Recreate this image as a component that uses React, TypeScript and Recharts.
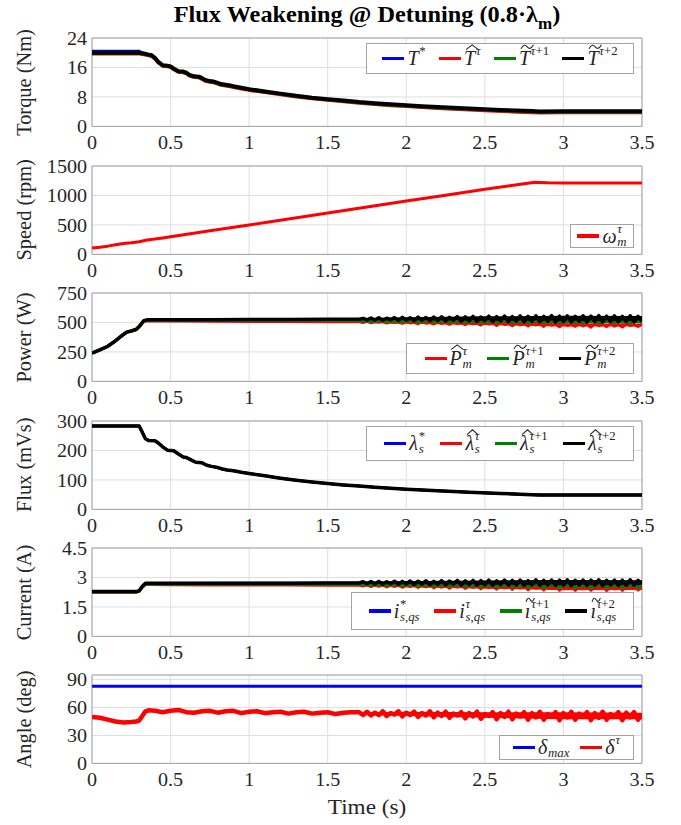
import React from 'react';
import { ComposedChart, Line, Area, XAxis, YAxis, CartesianGrid, ReferenceArea, Legend } from 'recharts';

const FONT = '"Liberation Serif", "Times New Roman", Times, serif';
const INK = '#262626';
const GRID = '#dedede';
const BOX = '#a3a3a3';
const STRETCH = 1.08;

const BLUE = '#0000ff';
const RED = '#ff0000';
const GREEN = '#008000';
const BLACK = '#000000';

// ---------- time axis ----------
const TIME_TICKS = [0, 0.5, 1, 1.5, 2, 2.5, 3, 3.5];
// 25 ms sampling instants for the ripple section 1.7 … 3.5 s
const DENSE_T = Array.from({ length: 73 }, (_, i) => Math.round((1.7 + i * 0.025) * 1000) / 1000);
// instants at which the ripple envelopes are read
const ENV_T = [1.7, 2.0, 2.5, 3.0, 3.5];

// ---------- torque (Nm) ----------
const TQ_T = [0, 0.3, 0.33, 0.36, 0.38, 0.4, 0.42, 0.45, 0.48, 0.5, 0.52, 0.55, 0.58, 0.6, 0.62, 0.65, 0.68, 0.7, 0.72, 0.75, 0.78, 0.8, 0.82, 0.85, 0.88, 0.9, 0.95, 1.0, 1.1, 1.2, 1.3, 1.4, 1.5, 1.6, 1.7, 1.8, 1.9, 2.0, 2.1, 2.2, 2.3, 2.4, 2.5, 2.6, 2.7, 2.8, 2.85, 3.0, 3.25, 3.5];
const TQ_PRED2 = [20.0, 20.0, 19.8, 19.5, 19.3, 18.6, 17.6, 16.6, 16.5, 16.3, 15.7, 15.0, 14.9, 14.6, 14.0, 13.6, 13.5, 13.1, 12.6, 12.3, 12.1, 11.8, 11.5, 11.3, 11.1, 10.9, 10.5, 10.1, 9.5, 8.9, 8.3, 7.8, 7.4, 7.0, 6.6, 6.3, 6.0, 5.75, 5.5, 5.25, 5.05, 4.85, 4.65, 4.45, 4.3, 4.15, 4.05, 4.1, 4.1, 4.1];
const TQ_PRED1 = [19.85, 19.85, 19.65, 19.35, 19.15, 18.45, 17.45, 16.45, 16.35, 16.15, 15.55, 14.85, 14.75, 14.45, 13.85, 13.45, 13.35, 12.95, 12.45, 12.15, 11.95, 11.65, 11.35, 11.15, 10.95, 10.75, 10.35, 9.95, 9.35, 8.75, 8.15, 7.65, 7.25, 6.85, 6.45, 6.1, 5.8, 5.55, 5.3, 5.05, 4.85, 4.65, 4.45, 4.25, 4.1, 3.95, 3.85, 3.9, 3.9, 3.9];
const TQ_EST = [19.7, 19.7, 19.5, 19.2, 19.0, 18.3, 17.3, 16.3, 16.2, 16.0, 15.4, 14.7, 14.6, 14.3, 13.7, 13.3, 13.2, 12.8, 12.3, 12.0, 11.8, 11.5, 11.2, 11.0, 10.8, 10.6, 10.2, 9.8, 9.2, 8.6, 8.0, 7.5, 7.1, 6.7, 6.3, 5.95, 5.65, 5.4, 5.15, 4.9, 4.7, 4.5, 4.3, 4.1, 3.9, 3.75, 3.65, 3.7, 3.7, 3.7];
const TQ_REF = [20.55, 20.55, 19.8, 19.5, 19.3, 18.6, 17.6, 16.6, 16.5, 16.3, 15.7, 15.0, 14.9, 14.6, 14.0, 13.6, 13.5, 13.1, 12.6, 12.3, 12.1, 11.8, 11.5, 11.3, 11.1, 10.9, 10.5, 10.1, 9.5, 8.9, 8.3, 7.8, 7.4, 7.0, 6.6, 6.3, 6.0, 5.75, 5.5, 5.25, 5.05, 4.85, 4.65, 4.45, 4.3, 4.15, 4.05, 4.1, 4.1, 4.1];

// ---------- speed (rpm) ----------
const SP_T = [0, 0.05, 0.1, 0.15, 0.2, 0.25, 0.3, 0.35, 0.4, 0.45, 0.5, 0.75, 1.0, 1.25, 1.5, 1.75, 2.0, 2.25, 2.5, 2.75, 2.82, 2.85, 2.9, 3.0, 3.25, 3.5];
const SP_V = [110, 122, 140, 162, 185, 198, 215, 245, 260, 280, 300, 400, 500, 600, 702, 803, 905, 1005, 1105, 1200, 1226, 1222, 1214, 1212, 1211, 1210];

// ---------- power (W) ----------
const PW_T0 = [0, 0.05, 0.1, 0.15, 0.2, 0.22, 0.25, 0.28, 0.3, 0.33, 0.35, 0.5, 0.75, 1.0, 1.25, 1.5, 1.675];
const PW_PRED2_0 = [240, 268, 298, 345, 398, 418, 428, 440, 465, 515, 522, 523, 524, 525, 526, 527, 527];
const PW_PRED1_0 = [240, 268, 298, 345, 398, 418, 428, 440, 465, 512, 518, 518, 517, 517, 516, 516, 515];
const PW_EST_0 = [240, 268, 298, 345, 398, 418, 428, 440, 465, 510, 513, 512, 510, 509, 508, 507, 506];
const PW_PRED2_D = [
  527, 535, 522, 538, 520, 540, 519, 536, 523, 541,
  518, 543, 521, 539, 516, 545, 520, 542, 515, 546,
  517, 548, 512, 544, 519, 550, 510, 547, 514, 551,
  509, 546, 516, 553, 508, 549, 513, 555, 507, 550,
  512, 556, 505, 552, 510, 557, 506, 551, 511, 558,
  504, 553, 509, 556, 505, 552, 510, 557, 503, 554,
  508, 558, 504, 553, 509, 556, 506, 551, 510, 557,
  505, 552, 512,
];
const PW_PRED1_D = [
  514, 508, 517, 506, 515, 509, 518, 505, 513, 510,
  512, 503, 516, 507, 518, 502, 514, 508, 517, 501,
  513, 505, 518, 500, 515, 507, 519, 499, 512, 506,
  517, 498, 514, 504, 520, 497, 511, 506, 518, 496,
  513, 503, 519, 495, 510, 505, 517, 494, 514, 502,
  518, 493, 511, 504, 516, 495, 519, 492, 512, 503,
  517, 494, 510, 505, 518, 493, 513, 500, 516, 495,
  511, 504, 508,
];
const PW_EST_D = [
  506, 500, 509, 497, 505, 501, 508, 495, 503, 499,
  504, 492, 507, 496, 502, 489, 506, 494, 500, 487,
  505, 491, 499, 484, 503, 490, 497, 481, 502, 488,
  495, 478, 500, 486, 493, 475, 499, 483, 491, 472,
  497, 480, 489, 470, 496, 478, 488, 466, 494, 476,
  486, 463, 493, 474, 485, 467, 492, 471, 484, 460,
  491, 472, 483, 465, 490, 469, 482, 461, 489, 473,
  481, 466, 487,
];
const PW_PRED2_LO = [520, 514, 508, 505, 505];
const PW_PRED2_HI = [536, 545, 552, 556, 555];
const PW_PRED1_LO = [506, 502, 497, 494, 495];
const PW_PRED1_HI = [516, 517, 518, 518, 516];
const PW_EST_LO = [498, 490, 478, 466, 467];
const PW_EST_HI = [507, 505, 502, 492, 489];

// ---------- flux (mVs) — reference, estimate and predictions coincide ----------
const FX_T = [0, 0.3, 0.32, 0.34, 0.36, 0.4, 0.42, 0.45, 0.48, 0.52, 0.55, 0.58, 0.6, 0.63, 0.66, 0.7, 0.73, 0.76, 0.8, 0.83, 0.86, 0.9, 0.95, 1.0, 1.1, 1.2, 1.3, 1.4, 1.5, 1.6, 1.7, 1.8, 1.9, 2.0, 2.2, 2.4, 2.6, 2.8, 2.85, 3.0, 3.5];
const FX_V = [283, 283, 262, 240, 234, 233, 226, 212, 201, 199, 188, 178, 176, 168, 160, 158, 150, 146, 142, 137, 134, 131, 126, 122, 114, 106, 99, 93, 88, 83, 79, 75, 72, 68.5, 63, 58, 54, 50, 49, 49, 49];

// ---------- q-axis current (A) ----------
const CU_T0 = [0, 0.28, 0.3, 0.32, 0.34, 0.36, 0.5, 0.75, 1.0, 1.25, 1.5, 1.675];
const CU_PRED2_0 = [2.28, 2.28, 2.32, 2.55, 2.70, 2.71, 2.71, 2.71, 2.71, 2.71, 2.72, 2.72];
const CU_PRED1_0 = [2.26, 2.26, 2.30, 2.52, 2.66, 2.66, 2.66, 2.66, 2.66, 2.65, 2.65, 2.65];
const CU_EST_0 = [2.25, 2.25, 2.29, 2.50, 2.64, 2.64, 2.63, 2.62, 2.62, 2.61, 2.60, 2.60];
const CU_REF_T = [0, 0.28, 0.3, 0.32, 0.34, 0.36, 3.5];
const CU_REF_V = [2.28, 2.28, 2.32, 2.55, 2.70, 2.71, 2.72];
const CU_PRED2_D = [
  2.72, 2.78, 2.68, 2.79, 2.67, 2.80, 2.66, 2.78, 2.68, 2.81,
  2.65, 2.80, 2.67, 2.82, 2.64, 2.81, 2.66, 2.83, 2.63, 2.80,
  2.65, 2.84, 2.62, 2.82, 2.66, 2.85, 2.61, 2.83, 2.64, 2.85,
  2.60, 2.84, 2.63, 2.86, 2.61, 2.83, 2.64, 2.87, 2.60, 2.85,
  2.62, 2.87, 2.59, 2.84, 2.63, 2.88, 2.60, 2.85, 2.62, 2.87,
  2.59, 2.86, 2.61, 2.88, 2.58, 2.85, 2.62, 2.87, 2.59, 2.86,
  2.61, 2.88, 2.58, 2.85, 2.62, 2.87, 2.59, 2.86, 2.60, 2.88,
  2.61, 2.85, 2.70,
];
const CU_PRED1_D = [
  2.65, 2.61, 2.67, 2.59, 2.66, 2.60, 2.68, 2.57, 2.65, 2.60,
  2.67, 2.56, 2.66, 2.58, 2.68, 2.55, 2.65, 2.59, 2.67, 2.54,
  2.66, 2.57, 2.69, 2.53, 2.65, 2.58, 2.68, 2.52, 2.66, 2.56,
  2.69, 2.51, 2.64, 2.57, 2.68, 2.50, 2.66, 2.55, 2.69, 2.49,
  2.65, 2.56, 2.68, 2.48, 2.64, 2.55, 2.69, 2.47, 2.66, 2.54,
  2.68, 2.47, 2.65, 2.55, 2.69, 2.46, 2.64, 2.53, 2.68, 2.47,
  2.66, 2.54, 2.69, 2.46, 2.65, 2.53, 2.68, 2.47, 2.64, 2.55,
  2.67, 2.48, 2.60,
];
const CU_EST_D = [
  2.60, 2.56, 2.62, 2.54, 2.61, 2.55, 2.62, 2.52, 2.60, 2.54,
  2.61, 2.50, 2.60, 2.53, 2.62, 2.49, 2.59, 2.52, 2.61, 2.47,
  2.60, 2.50, 2.62, 2.45, 2.59, 2.51, 2.61, 2.44, 2.58, 2.49,
  2.61, 2.42, 2.57, 2.48, 2.60, 2.40, 2.58, 2.47, 2.61, 2.39,
  2.57, 2.46, 2.60, 2.37, 2.56, 2.45, 2.59, 2.36, 2.57, 2.44,
  2.60, 2.35, 2.56, 2.45, 2.59, 2.34, 2.57, 2.43, 2.60, 2.35,
  2.56, 2.44, 2.59, 2.33, 2.57, 2.42, 2.60, 2.34, 2.56, 2.44,
  2.58, 2.36, 2.50,
];
const CU_PRED2_LO = [2.67, 2.64, 2.61, 2.59, 2.6];
const CU_PRED2_HI = [2.78, 2.82, 2.85, 2.87, 2.86];
const CU_PRED1_LO = [2.6, 2.56, 2.51, 2.47, 2.48];
const CU_PRED1_HI = [2.66, 2.67, 2.68, 2.68, 2.67];
const CU_EST_LO = [2.55, 2.5, 2.43, 2.35, 2.36];
const CU_EST_HI = [2.6, 2.61, 2.61, 2.59, 2.58];

// ---------- load angle (deg) ----------
const DELTA_MAX_T = [0, 3.5];
const DELTA_MAX_V = [82.8, 82.8];
const AN_T0 = [0, 0.05, 0.1, 0.15, 0.2, 0.25, 0.28, 0.3, 0.32, 0.34, 0.36, 0.4, 0.45, 0.5, 0.55, 0.6, 0.65, 0.7, 0.75, 0.8, 0.85, 0.9, 0.95, 1.0, 1.05, 1.1, 1.15, 1.2, 1.25, 1.3, 1.35, 1.4, 1.45, 1.5, 1.55, 1.6, 1.65];
const AN_V0 = [50, 49, 47, 45, 44, 44.5, 45, 46, 51, 56, 57, 56.5, 55, 56.5, 57.5, 55, 54.5, 56, 56.5, 54.5, 56, 56.5, 54, 55.5, 56, 54, 55, 55.5, 53.5, 55, 55.5, 53.5, 54.5, 55, 53, 54.5, 55];
const AN_D = [
  55, 52, 55.5, 51.5, 54.5, 52, 56, 51, 54, 52.5,
  56, 50.5, 54.5, 52, 55.5, 50, 54, 51.5, 56, 49.5,
  54.5, 51, 55.5, 49, 53.5, 51.5, 55, 48.5, 54, 50.5,
  55.5, 48, 53, 51, 55, 47.5, 54, 50, 55.5, 47.5,
  53.5, 50.5, 55, 47, 54, 49.5, 55.5, 47, 53, 50,
  55, 46.5, 54, 49.5, 55.5, 47, 53.5, 50, 55, 46.5,
  54, 49, 55.5, 47, 53, 50, 55, 46.5, 54.5, 49.5,
  55, 47, 52,
];
const AN_LO = [52, 51, 49, 47.5, 47.5];
const AN_HI = [55, 55.5, 55, 55, 54.5];

type Pt = { t: number; v: number };
type BandPt = { t: number; r: [number, number] };
const pts = (ts: number[], vs: number[]): Pt[] => ts.map((t, i) => ({ t, v: vs[i] }));
const band = (ts: number[], lo: number[], hi: number[]): BandPt[] => ts.map((t, i) => ({ t, r: [lo[i], hi[i]] }));

// ---------- layout ----------
const PANEL_TOPS = [38.3, 165.6, 293.3, 420.6, 548.3, 675.2];
const PANEL_H = 88.4;
const PAD_TOP = 14;
const XAXIS_H = 40;
const CHART_H = PAD_TOP + PANEL_H + XAXIS_H;
const PLOT_LEFT = 92;
const PLOT_RIGHT = 642;

// ---------- math-style legend labels ----------
function Accent({ kind, w }: { kind: 'hat' | 'tilde'; w: number }) {
  const d = kind === 'hat' ? 'M0 4 L5 0.6 L10 4' : 'M0 3.4 C1.8 0.2 3.6 0.4 5 2 C6.4 3.6 8.2 3.8 10 0.6';
  return (
    <svg
      width={`${w}em`}
      height="0.28em"
      viewBox="0 0 10 4"
      preserveAspectRatio="none"
      style={{ position: 'absolute', left: '0.08em', top: '-0.2em', overflow: 'visible' }}
    >
      <path d={d} fill="none" stroke={INK} strokeWidth={1.1} vectorEffect="non-scaling-stroke" />
    </svg>
  );
}

function M({ b, acc, accW = 0.62, sup, sub }: { b: string; acc?: 'hat' | 'tilde'; accW?: number; sup?: React.ReactNode; sub?: React.ReactNode }) {
  return (
    <span style={{ display: 'inline-flex', alignItems: 'center', whiteSpace: 'nowrap' }}>
      <span style={{ position: 'relative', display: 'inline-block', fontStyle: 'italic', lineHeight: 1 }}>
        {acc && <Accent kind={acc} w={accW} />}
        {b}
      </span>
      <span style={{ display: 'inline-flex', flexDirection: 'column', fontSize: '0.64em', lineHeight: 1.05, marginLeft: '0.06em' }}>
        <span style={{ visibility: sup ? 'visible' : 'hidden' }}>{sup ?? '\u00a0'}</span>
        <span style={{ visibility: sub ? 'visible' : 'hidden' }}>{sub ?? '\u00a0'}</span>
      </span>
    </span>
  );
}

const tau = <i>τ</i>;
const tau1 = (
  <>
    <i>τ</i>+1
  </>
);
const tau2 = (
  <>
    <i>τ</i>+2
  </>
);
const sqs = (
  <>
    <i>s</i>,<i>qs</i>
  </>
);

type LegendItem = { color: string; label: React.ReactNode };
type LegendDef = { x: number; y: number; w: number; h: number; items: LegendItem[] };

function LegendBox({ items }: { items: LegendItem[] }) {
  return (
    <div
      style={{
        boxSizing: 'border-box',
        width: '100%',
        height: '100%',
        background: '#ffffff',
        border: `1px solid ${BOX}`,
        display: 'flex',
        alignItems: 'center',
        justifyContent: 'space-evenly',
        fontFamily: FONT,
        fontSize: 20,
        color: INK,
        padding: '0 2px',
      }}
    >
      {items.map((it, i) => (
        <span key={i} style={{ display: 'inline-flex', alignItems: 'center' }}>
          <span style={{ display: 'inline-block', width: 22, height: 3.5, background: it.color, marginRight: 3 }} />
          {it.label}
        </span>
      ))}
    </div>
  );
}

// ---------- axis ticks ----------
function XTick(props: any) {
  const { x, y, payload } = props;
  return (
    <g transform={`translate(${x},${y}) scale(${STRETCH},1)`}>
      <text textAnchor="middle" dy="0.71em" fontFamily={FONT} fontSize={18.6} fill={INK}>
        {String(payload.value)}
      </text>
    </g>
  );
}

function YTick(props: any) {
  const { x, y, payload } = props;
  return (
    <g transform={`translate(${x},${y}) scale(${STRETCH},1)`}>
      <text textAnchor="end" dy="0.355em" fontFamily={FONT} fontSize={18.6} fill={INK}>
        {String(payload.value)}
      </text>
    </g>
  );
}

// ---------- panels ----------
type SeriesDef = { data: Pt[]; color: string; width: number; env?: BandPt[] };
type PanelDef = { label: string; yMax: number; yTicks: number[]; series: SeriesDef[]; legend: LegendDef };

const PANELS: PanelDef[] = [
  {
    label: 'Torque (Nm)',
    yMax: 24,
    yTicks: [0, 8, 16, 24],
    series: [
      { data: pts(TQ_T, TQ_REF), color: BLUE, width: 2 },
      { data: pts(TQ_T, TQ_EST), color: RED, width: 3.2 },
      { data: pts(TQ_T, TQ_PRED1), color: GREEN, width: 3.2 },
      { data: pts(TQ_T, TQ_PRED2), color: BLACK, width: 4 },
    ],
    legend: {
      x: 366, y: 43, w: 268, h: 31,
      items: [
        { color: BLUE, label: <M b="T" sup="*" /> },
        { color: RED, label: <M b="T" acc="hat" sup={tau} /> },
        { color: GREEN, label: <M b="T" acc="tilde" sup={tau1} /> },
        { color: BLACK, label: <M b="T" acc="tilde" sup={tau2} /> },
      ],
    },
  },
  {
    label: 'Speed (rpm)',
    yMax: 1500,
    yTicks: [0, 500, 1000, 1500],
    series: [{ data: pts(SP_T, SP_V), color: RED, width: 3 }],
    legend: {
      x: 570, y: 224, w: 64, h: 24,
      items: [{ color: RED, label: <M b="ω" sup={tau} sub={<i>m</i>} /> }],
    },
  },
  {
    label: 'Power (W)',
    yMax: 750,
    yTicks: [0, 250, 500, 750],
    series: [
      { data: pts([...PW_T0, ...DENSE_T], [...PW_EST_0, ...PW_EST_D]), color: RED, width: 3, env: band(ENV_T, PW_EST_LO, PW_EST_HI) },
      { data: pts([...PW_T0, ...DENSE_T], [...PW_PRED1_0, ...PW_PRED1_D]), color: GREEN, width: 3, env: band(ENV_T, PW_PRED1_LO, PW_PRED1_HI) },
      { data: pts([...PW_T0, ...DENSE_T], [...PW_PRED2_0, ...PW_PRED2_D]), color: BLACK, width: 3.5, env: band(ENV_T, PW_PRED2_LO, PW_PRED2_HI) },
    ],
    legend: {
      x: 406, y: 343, w: 228, h: 31,
      items: [
        { color: RED, label: <M b="P" acc="hat" sup={tau} sub={<i>m</i>} /> },
        { color: GREEN, label: <M b="P" acc="tilde" sup={tau1} sub={<i>m</i>} /> },
        { color: BLACK, label: <M b="P" acc="tilde" sup={tau2} sub={<i>m</i>} /> },
      ],
    },
  },
  {
    label: 'Flux (mVs)',
    yMax: 300,
    yTicks: [0, 100, 200, 300],
    series: [
      { data: pts(FX_T, FX_V), color: BLUE, width: 2.5 },
      { data: pts(FX_T, FX_V), color: RED, width: 2.5 },
      { data: pts(FX_T, FX_V), color: GREEN, width: 2.5 },
      { data: pts(FX_T, FX_V), color: BLACK, width: 3.5 },
    ],
    legend: {
      x: 366, y: 426, w: 268, h: 35,
      items: [
        { color: BLUE, label: <M b="λ" sup="*" sub={<i>s</i>} /> },
        { color: RED, label: <M b="λ" acc="hat" accW={0.55} sup={tau} sub={<i>s</i>} /> },
        { color: GREEN, label: <M b="λ" acc="hat" accW={0.55} sup={tau1} sub={<i>s</i>} /> },
        { color: BLACK, label: <M b="λ" acc="hat" accW={0.55} sup={tau2} sub={<i>s</i>} /> },
      ],
    },
  },
  {
    label: 'Current (A)',
    yMax: 4.5,
    yTicks: [0, 1.5, 3, 4.5],
    series: [
      { data: pts(CU_REF_T, CU_REF_V), color: BLUE, width: 2.5 },
      { data: pts([...CU_T0, ...DENSE_T], [...CU_EST_0, ...CU_EST_D]), color: RED, width: 3, env: band(ENV_T, CU_EST_LO, CU_EST_HI) },
      { data: pts([...CU_T0, ...DENSE_T], [...CU_PRED1_0, ...CU_PRED1_D]), color: GREEN, width: 3, env: band(ENV_T, CU_PRED1_LO, CU_PRED1_HI) },
      { data: pts([...CU_T0, ...DENSE_T], [...CU_PRED2_0, ...CU_PRED2_D]), color: BLACK, width: 3.5, env: band(ENV_T, CU_PRED2_LO, CU_PRED2_HI) },
    ],
    legend: {
      x: 351, y: 592, w: 283, h: 38,
      items: [
        { color: BLUE, label: <M b="i" sup="*" sub={sqs} /> },
        { color: RED, label: <M b="i" sup={tau} sub={sqs} /> },
        { color: GREEN, label: <M b="ı" acc="tilde" accW={0.42} sup={tau1} sub={sqs} /> },
        { color: BLACK, label: <M b="ı" acc="tilde" accW={0.42} sup={tau2} sub={sqs} /> },
      ],
    },
  },
  {
    label: 'Angle (deg)',
    yMax: 95,
    yTicks: [0, 30, 60, 90],
    series: [
      { data: pts(DELTA_MAX_T, DELTA_MAX_V), color: BLUE, width: 3 },
      { data: pts([...AN_T0, ...DENSE_T], [...AN_V0, ...AN_D]), color: RED, width: 4.5, env: band(ENV_T, AN_LO, AN_HI) },
    ],
    legend: {
      x: 499, y: 735, w: 135, h: 25,
      items: [
        { color: BLUE, label: <M b="δ" sub={<i>max</i>} /> },
        { color: RED, label: <M b="δ" sup={tau} /> },
      ],
    },
  },
];

function Panel({ p, top }: { p: PanelDef; top: number }) {
  const chartTop = top - PAD_TOP;
  const marks: React.ReactNode[] = [];
  p.series.forEach((s, i) => {
    if (s.env) {
      marks.push(
        <Area
          key={`env-${i}`}
          data={s.env}
          dataKey="r"
          type="linear"
          stroke="none"
          fill={s.color}
          fillOpacity={1}
          dot={false}
          activeDot={false}
          isAnimationActive={false}
          legendType="none"
        />
      );
    }
    marks.push(
      <Line
        key={`line-${i}`}
        data={s.data}
        dataKey="v"
        type="linear"
        stroke={s.color}
        strokeWidth={s.width}
        strokeLinejoin="round"
        dot={false}
        activeDot={false}
        isAnimationActive={false}
      />
    );
  });
  return (
    <div style={{ position: 'absolute', left: 0, top: chartTop, width: 681, height: CHART_H }}>
      <ComposedChart width={681} height={CHART_H} margin={{ top: PAD_TOP, right: 681 - PLOT_RIGHT, bottom: 0, left: 0 }}>
        <CartesianGrid stroke={GRID} strokeWidth={1} />
        <XAxis
          type="number"
          dataKey="t"
          domain={[0, 3.5]}
          ticks={TIME_TICKS}
          interval={0}
          allowDataOverflow
          height={XAXIS_H}
          axisLine={false}
          tickLine={false}
          tickSize={6}
          tickMargin={3}
          tick={(props: any) => <XTick {...props} />}
        />
        <YAxis
          type="number"
          domain={[0, p.yMax]}
          ticks={p.yTicks}
          interval={0}
          allowDataOverflow
          width={PLOT_LEFT}
          axisLine={false}
          tickLine={false}
          tickSize={3}
          tickMargin={2}
          tick={(props: any) => <YTick {...props} />}
        />
        <ReferenceArea x1={0} x2={3.5} y1={0} y2={p.yMax} fill="none" stroke={BOX} strokeWidth={1} />
        {marks}
        <Legend
          layout="horizontal"
          verticalAlign="middle"
          align="center"
          wrapperStyle={{ left: p.legend.x, top: p.legend.y - chartTop, width: p.legend.w, height: p.legend.h }}
          content={() => <LegendBox items={p.legend.items} />}
        />
      </ComposedChart>
    </div>
  );
}

export default function App() {
  const cx = (PLOT_LEFT + PLOT_RIGHT) / 2;
  return (
    <div style={{ position: 'absolute', left: 0, top: 0, width: 681, height: 825, background: '#ffffff', overflow: 'hidden' }}>
      {PANELS.map((p, i) => (
        <Panel key={i} p={p} top={PANEL_TOPS[i]} />
      ))}
      <div
        style={{
          position: 'absolute',
          left: 0,
          top: 3.9,
          width: cx * 2,
          textAlign: 'center',
          fontFamily: FONT,
          fontWeight: 'bold',
          fontSize: 22.5,
          lineHeight: 1,
          color: '#000',
          transform: `scaleX(${STRETCH})`,
          whiteSpace: 'nowrap',
        }}
      >
        Flux Weakening @ Detuning (0.8·λ
        <span style={{ fontSize: '0.7em', position: 'relative', top: '0.45em' }}>m</span>)
      </div>
      <svg width={681} height={825} style={{ position: 'absolute', left: 0, top: 0, pointerEvents: 'none' }}>
        {PANELS.map((p, i) => {
          const cy = PANEL_TOPS[i] + PANEL_H / 2;
          return (
            <text
              key={i}
              x={31}
              y={cy}
              transform={`rotate(-90, 31, ${cy})`}
              textAnchor="middle"
              fontFamily={FONT}
              fontSize={20.4}
              fill={INK}
            >
              {p.label}
            </text>
          );
        })}
        <g transform={`translate(${cx},814) scale(${STRETCH},1)`}>
          <text textAnchor="middle" fontFamily={FONT} fontSize={21.5} fill={INK}>
            Time (s)
          </text>
        </g>
      </svg>
    </div>
  );
}
